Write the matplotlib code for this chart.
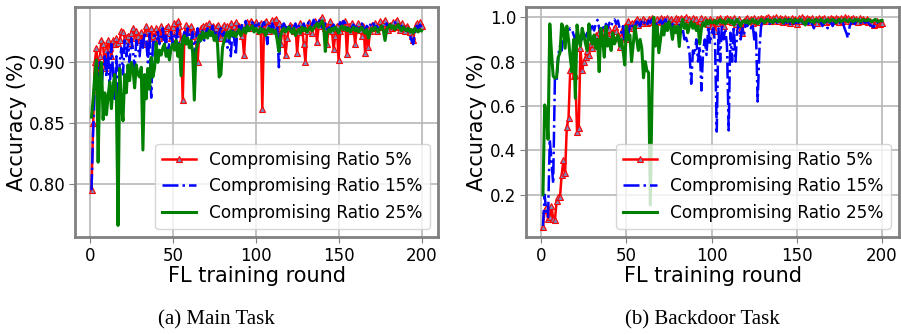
import matplotlib
matplotlib.use("Agg")
import matplotlib.pyplot as plt
import numpy as np

rounds = list(range(1, 201))
labels = ["Compromising Ratio 5%", "Compromising Ratio 15%", "Compromising Ratio 25%"]
captions = ["(a) Main Task", "(b) Backdoor Task"]

main_r5 = [
    0.795, 0.850, 0.900, 0.912, 0.877, 0.905, 0.918, 0.915, 0.895, 0.910,
    0.918, 0.912, 0.905, 0.918, 0.915, 0.920, 0.916, 0.918, 0.926, 0.925,
    0.920, 0.918, 0.922, 0.916, 0.924, 0.928, 0.920, 0.926, 0.922, 0.918,
    0.925, 0.915, 0.924, 0.930, 0.926, 0.920, 0.928, 0.922, 0.918, 0.928,
    0.925, 0.920, 0.930, 0.926, 0.922, 0.928, 0.930, 0.924, 0.920, 0.929,
    0.932, 0.926, 0.934, 0.930, 0.918, 0.869, 0.920, 0.931, 0.928, 0.925,
    0.930, 0.926, 0.922, 0.918, 0.900, 0.925, 0.928, 0.930, 0.926, 0.931,
    0.928, 0.932, 0.926, 0.930, 0.924, 0.928, 0.931, 0.926, 0.920, 0.929,
    0.931, 0.926, 0.930, 0.928, 0.932, 0.925, 0.930, 0.933, 0.928, 0.930,
    0.927, 0.922, 0.906, 0.928, 0.933, 0.930, 0.934, 0.928, 0.931, 0.933,
    0.930, 0.926, 0.932, 0.862, 0.928, 0.934, 0.930, 0.926, 0.932, 0.935,
    0.930, 0.936, 0.928, 0.932, 0.915, 0.925, 0.930, 0.906, 0.920, 0.928,
    0.931, 0.929, 0.926, 0.930, 0.908, 0.925, 0.932, 0.928, 0.915, 0.900,
    0.926, 0.933, 0.930, 0.924, 0.931, 0.934, 0.917, 0.930, 0.935, 0.937,
    0.932, 0.928, 0.915, 0.930, 0.934, 0.926, 0.911, 0.922, 0.930, 0.902,
    0.926, 0.932, 0.928, 0.934, 0.907, 0.930, 0.926, 0.932, 0.928, 0.915,
    0.929, 0.932, 0.927, 0.922, 0.930, 0.908, 0.928, 0.913, 0.926, 0.931,
    0.928, 0.932, 0.926, 0.930, 0.934, 0.929, 0.932, 0.935, 0.930, 0.927,
    0.931, 0.928, 0.933, 0.929, 0.935, 0.930, 0.927, 0.932, 0.928, 0.926,
    0.930, 0.928, 0.925, 0.922, 0.918, 0.928, 0.932, 0.928, 0.933, 0.930,
]
main_r15 = [
    0.795, 0.845, 0.880, 0.898, 0.885, 0.900, 0.880, 0.895, 0.905, 0.888,
    0.910, 0.875, 0.915, 0.892, 0.870, 0.905, 0.863, 0.900, 0.912, 0.890,
    0.918, 0.905, 0.915, 0.900, 0.920, 0.910, 0.895, 0.918, 0.912, 0.905,
    0.920, 0.912, 0.925, 0.918, 0.900, 0.925, 0.871, 0.915, 0.922, 0.910,
    0.925, 0.915, 0.920, 0.928, 0.912, 0.922, 0.905, 0.918, 0.925, 0.915,
    0.922, 0.918, 0.928, 0.905, 0.894, 0.920, 0.925, 0.915, 0.928, 0.922,
    0.918, 0.925, 0.905, 0.920, 0.928, 0.915, 0.922, 0.926, 0.918, 0.925,
    0.928, 0.920, 0.925, 0.930, 0.922, 0.926, 0.918, 0.924, 0.928, 0.920,
    0.925, 0.918, 0.912, 0.922, 0.905, 0.926, 0.920, 0.906, 0.928, 0.930,
    0.925, 0.932, 0.928, 0.934, 0.926, 0.930, 0.928, 0.933, 0.927, 0.931,
    0.928, 0.932, 0.926, 0.930, 0.933, 0.928, 0.915, 0.930, 0.927, 0.932,
    0.928, 0.925, 0.930, 0.896, 0.926, 0.930, 0.932, 0.927, 0.930, 0.928,
    0.931, 0.926, 0.929, 0.932, 0.927, 0.930, 0.925, 0.929, 0.932, 0.928,
    0.930, 0.933, 0.928, 0.931, 0.935, 0.930, 0.933, 0.936, 0.932, 0.929,
    0.928, 0.932, 0.927, 0.930, 0.925, 0.929, 0.931, 0.928, 0.926, 0.930,
    0.933, 0.930, 0.934, 0.932, 0.928, 0.930, 0.926, 0.929, 0.931, 0.928,
    0.930, 0.927, 0.929, 0.932, 0.928, 0.926, 0.930, 0.928, 0.931, 0.929,
    0.932, 0.928, 0.930, 0.927, 0.929, 0.931, 0.928, 0.930, 0.932, 0.929,
    0.931, 0.928, 0.930, 0.933, 0.929, 0.931, 0.928, 0.930, 0.927, 0.929,
    0.928, 0.926, 0.922, 0.918, 0.915, 0.925, 0.930, 0.928, 0.931, 0.929,
]
main_r25 = [
    0.855, 0.870, 0.890, 0.902, 0.818, 0.887, 0.900, 0.853, 0.875, 0.857,
    0.872, 0.884, 0.862, 0.880, 0.890, 0.872, 0.766, 0.895, 0.866, 0.852,
    0.890, 0.875, 0.898, 0.885, 0.900, 0.895, 0.879, 0.898, 0.890, 0.888,
    0.896, 0.828, 0.890, 0.870, 0.895, 0.878, 0.904, 0.888, 0.895, 0.916,
    0.900, 0.910, 0.906, 0.912, 0.915, 0.905, 0.910, 0.902, 0.912, 0.915,
    0.910, 0.918, 0.905, 0.915, 0.889, 0.918, 0.922, 0.915, 0.920, 0.912,
    0.918, 0.908, 0.869, 0.910, 0.915, 0.922, 0.918, 0.925, 0.920, 0.924,
    0.920, 0.926, 0.922, 0.925, 0.918, 0.922, 0.915, 0.888, 0.890, 0.912,
    0.918, 0.922, 0.925, 0.920, 0.926, 0.922, 0.925, 0.921, 0.924, 0.927,
    0.922, 0.925, 0.928, 0.924, 0.930, 0.926, 0.928, 0.930, 0.925, 0.928,
    0.926, 0.924, 0.928, 0.925, 0.927, 0.922, 0.926, 0.928, 0.925, 0.927,
    0.924, 0.926, 0.918, 0.909, 0.922, 0.926, 0.928, 0.925, 0.927, 0.929,
    0.926, 0.924, 0.928, 0.922, 0.925, 0.927, 0.924, 0.929, 0.926, 0.928,
    0.925, 0.927, 0.929, 0.926, 0.928, 0.930, 0.932, 0.929, 0.932, 0.934,
    0.930, 0.909, 0.924, 0.927, 0.925, 0.928, 0.926, 0.929, 0.927, 0.924,
    0.928, 0.930, 0.927, 0.929, 0.926, 0.928, 0.925, 0.927, 0.929, 0.926,
    0.928, 0.925, 0.927, 0.929, 0.926, 0.924, 0.927, 0.920, 0.925, 0.928,
    0.926, 0.929, 0.927, 0.925, 0.928, 0.930, 0.926, 0.918, 0.927, 0.929,
    0.931, 0.928, 0.930, 0.927, 0.929, 0.931, 0.928, 0.926, 0.929, 0.927,
    0.926, 0.928, 0.925, 0.927, 0.924, 0.928, 0.926, 0.925, 0.927, 0.926,
]

bd_r5 = [
    0.055, 0.130, 0.140, 0.090, 0.100, 0.150, 0.090, 0.085, 0.170, 0.190,
    0.190, 0.290, 0.355, 0.300, 0.505, 0.545, 0.760, 0.775, 0.735, 0.740,
    0.485, 0.500, 0.860, 0.760, 0.800, 0.820, 0.850, 0.830, 0.880, 0.860,
    0.880, 0.920, 0.890, 0.935, 0.900, 0.940, 0.910, 0.950, 0.920, 0.945,
    0.930, 0.910, 0.955, 0.940, 0.920, 0.868, 0.910, 0.950, 0.960, 0.900,
    0.985, 0.960, 0.975, 0.950, 0.980, 0.990, 0.965, 0.985, 0.975, 0.990,
    0.985, 0.975, 0.990, 0.980, 0.995, 0.985, 0.975, 0.990, 0.985, 0.995,
    0.980, 0.990, 0.985, 0.995, 0.980, 0.990, 0.975, 0.985, 0.995, 0.990,
    0.985, 0.995, 0.980, 0.990, 1.000, 0.985, 0.990, 0.980, 0.995, 0.985,
    0.990, 0.975, 0.985, 0.995, 0.980, 0.990, 0.985, 0.970, 0.990, 0.960,
    0.985, 0.940, 0.990, 0.975, 0.995, 0.985, 0.960, 0.990, 0.995, 0.985,
    0.990, 0.980, 0.995, 0.970, 0.985, 0.990, 0.945, 0.930, 0.985, 0.990,
    0.995, 0.985, 0.990, 0.975, 0.995, 0.985, 0.990, 0.980, 0.995, 0.990,
    0.985, 0.995, 1.000, 0.990, 0.985, 0.995, 0.990, 1.000, 0.985, 0.995,
    0.990, 0.980, 0.995, 0.985, 0.990, 0.975, 0.995, 0.985, 0.990, 0.970,
    0.995, 0.985, 1.000, 0.990, 0.985, 0.995, 0.990, 0.980, 0.995, 0.985,
    0.990, 0.975, 0.995, 0.985, 0.990, 0.995, 0.980, 0.990, 0.985, 0.995,
    0.990, 0.985, 0.995, 0.990, 0.980, 0.995, 0.985, 1.000, 0.990, 0.995,
    0.985, 0.990, 0.995, 0.985, 0.990, 0.980, 0.995, 0.985, 0.990, 0.985,
    0.990, 0.980, 0.985, 0.975, 0.965, 0.970, 0.985, 0.975, 0.970, 0.975,
]
bd_r15 = [
    0.060, 0.200, 0.120, 0.100, 0.450, 0.350, 0.250, 0.720, 0.710, 0.830,
    0.870, 0.850, 0.930, 0.900, 0.945, 0.930, 0.950, 0.945, 0.920, 0.900,
    0.930, 0.910, 0.920, 0.900, 0.925, 0.910, 0.930, 0.910, 0.950, 0.960,
    0.940, 0.970, 0.988, 0.950, 0.920, 0.960, 0.940, 0.970, 0.950, 0.975,
    0.960, 0.980, 0.990, 0.970, 0.985, 0.950, 0.930, 0.960, 0.890, 0.940,
    0.920, 0.960, 0.950, 0.970, 0.960, 0.980, 0.975, 0.960, 0.985, 0.970,
    0.980, 0.965, 0.985, 0.975, 0.990, 0.970, 0.980, 0.960, 0.975, 0.985,
    0.970, 0.980, 0.990, 0.960, 0.975, 0.950, 0.970, 0.930, 0.960, 0.940,
    0.965, 0.920, 0.950, 0.900, 0.907, 0.880, 0.840, 0.700, 0.850, 0.830,
    0.900, 0.800, 0.870, 0.670, 0.850, 0.900, 0.830, 0.960, 0.880, 0.930,
    0.950, 0.880, 0.485, 0.950, 0.800, 0.970, 0.900, 0.950, 0.870, 0.490,
    0.930, 0.800, 0.960, 0.800, 0.940, 0.970, 0.900, 0.950, 0.920, 0.975,
    0.960, 0.980, 0.950, 0.970, 0.900, 0.940, 0.620, 0.850, 0.960, 0.980,
    0.975, 0.990, 0.980, 0.970, 0.985, 0.975, 0.990, 0.980, 0.970, 0.985,
    0.975, 0.965, 0.985, 0.975, 0.990, 0.970, 0.980, 0.975, 0.960, 0.985,
    0.975, 0.990, 0.980, 0.970, 0.985, 0.960, 0.975, 0.985, 0.970, 0.950,
    0.975, 0.985, 0.970, 0.980, 0.960, 0.975, 0.985, 0.950, 0.970, 0.980,
    0.960, 0.975, 0.985, 0.970, 0.980, 0.965, 0.975, 0.950, 0.930, 0.905,
    0.960, 0.975, 0.980, 0.970, 0.985, 0.975, 0.980, 0.970, 0.985, 0.975,
    0.980, 0.975, 0.965, 0.960, 0.955, 0.975, 0.980, 0.970, 0.975, 0.980,
]
bd_r25 = [
    0.200, 0.605, 0.575, 0.450, 0.970, 0.840, 0.735, 0.725, 0.730, 0.820,
    0.840, 0.970, 0.950, 0.860, 0.960, 0.900, 0.820, 0.755, 0.900, 0.635,
    0.965, 0.900, 0.870, 0.950, 0.920, 0.880, 0.850, 0.970, 0.900, 0.880,
    0.920, 0.860, 0.900, 0.755, 0.950, 0.900, 0.820, 0.960, 0.870, 0.900,
    0.850, 0.930, 0.880, 0.900, 0.920, 0.870, 0.900, 0.850, 0.785, 0.960,
    0.900, 0.920, 0.800, 0.880, 0.960, 0.900, 0.850, 0.900, 0.860, 0.727,
    0.800, 0.760, 0.750, 0.155, 0.650, 1.000, 0.870, 0.960, 0.840, 0.900,
    0.960, 0.920, 0.970, 0.940, 0.980, 0.950, 0.900, 0.960, 0.930, 0.960,
    0.868, 0.960, 0.990, 0.950, 0.970, 0.930, 0.960, 0.980, 0.950, 0.970,
    0.940, 0.960, 0.880, 0.950, 0.975, 0.960, 0.985, 0.970, 0.985, 0.975,
    0.975, 0.985, 0.970, 0.980, 0.990, 0.975, 0.985, 0.970, 0.980, 0.990,
    0.975, 0.985, 0.965, 0.980, 0.990, 0.975, 0.960, 0.980, 0.985, 0.975,
    0.985, 0.970, 0.980, 0.990, 0.975, 0.985, 0.970, 0.980, 0.990, 0.985,
    0.975, 0.985, 0.990, 0.980, 0.985, 0.975, 0.990, 0.985, 0.980, 0.990,
    0.985, 0.975, 0.990, 0.985, 0.980, 0.990, 0.985, 0.975, 0.990, 0.985,
    0.980, 0.990, 0.985, 0.975, 0.965, 0.985, 0.990, 0.980, 0.985, 0.975,
    0.990, 0.985, 0.980, 0.990, 0.985, 0.975, 0.985, 0.990, 0.980, 0.985,
    0.990, 0.985, 0.975, 0.985, 0.990, 0.980, 0.985, 0.990, 0.985, 0.980,
    0.990, 0.985, 0.980, 0.990, 0.985, 0.990, 0.980, 0.985, 0.990, 0.985,
    0.985, 0.990, 0.985, 0.980, 0.985, 0.990, 0.985, 0.980, 0.985, 0.985,
]

main_yticks = [0.80, 0.85, 0.90]
bd_yticks = [0.2, 0.4, 0.6, 0.8, 1.0]
xticks = [0, 50, 100, 150, 200]

plt.rcParams['font.family'] = ['DejaVu Sans']

W, H = 901, 335
fig = plt.figure(figsize=(W / 100, H / 100), dpi=100)

def make_ax(left_px, right_px):
    return fig.add_axes([left_px / W, (H - 237) / H, (right_px - left_px) / W, 230 / H])

ax1 = make_ax(75, 438)
ax2 = make_ax(526, 899)

def draw(ax, r5, r15, r25, yticks, ylim, ytfmt, ylab_x):
    ax.plot(rounds, r5, color='red', lw=1.8, marker='^', ms=4.2,
            mec='red', mfc='#7f86b8', mew=0.8, label=labels[0])
    ax.plot(rounds, r15, color='blue', lw=1.8, ls='-.', label=labels[1])
    ax.plot(rounds, r25, color='green', lw=2.2, label=labels[2])
    ax.set_xlim(-8.95, 209.95)
    ax.set_ylim(*ylim)
    ax.set_xticks(xticks)
    ax.set_yticks(yticks)
    ax.set_yticklabels([ytfmt.format(v) for v in yticks])
    ax.tick_params(labelsize=12, color='#808080', length=4, pad=3)
    ax.grid(True, color='#b8b8b8', lw=1.2)
    ax.set_axisbelow(True)
    for s in ax.spines.values():
        s.set_color('#808080')
        s.set_linewidth(2)
    ax.set_xlabel('FL training round', fontsize=15, labelpad=1)
    ax.set_ylabel('Accuracy (%)', fontsize=15)
    ax.yaxis.set_label_coords(ylab_x, 0.5)
    ax.legend(loc='lower right', fontsize=12.2, framealpha=0.8)

draw(ax1, main_r5, main_r15, main_r25, main_yticks, (0.7565, 0.9455), '{:.2f}', -0.132)
draw(ax2, bd_r5, bd_r15, bd_r25, bd_yticks, (0.010, 1.046), '{:.1f}', -0.105)

fig.text(216 / W, 1 - 320 / H, captions[0], ha='center', va='center',
         fontsize=15, family='Liberation Serif')
fig.text(702 / W, 1 - 320 / H, captions[1], ha='center', va='center',
         fontsize=15, family='Liberation Serif')

fig.savefig('out.png', dpi=100)
